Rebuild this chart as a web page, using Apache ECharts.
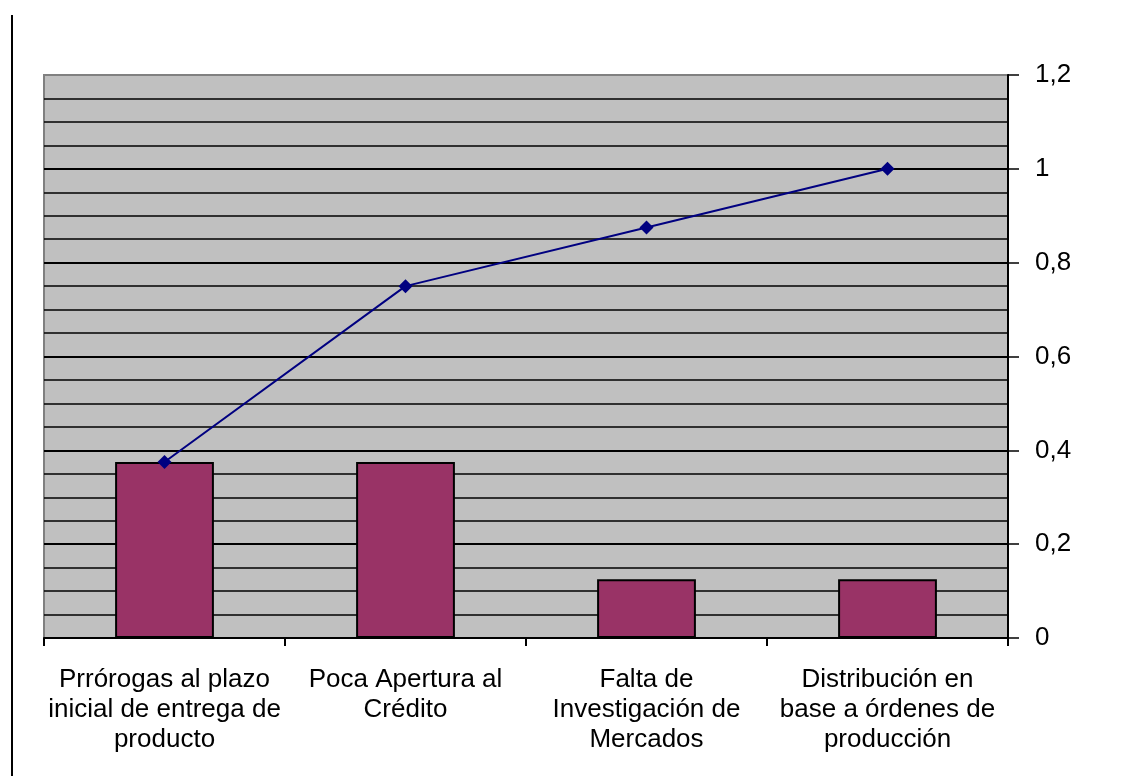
<!DOCTYPE html>
<html>
<head>
<meta charset="utf-8">
<title>Pareto</title>
<script src="https://cdn.jsdelivr.net/npm/echarts@6/dist/echarts.min.js"></script>
<style>
    html, body { margin: 0; padding: 0; background: #fff; }
    #main { width: 1131px; height: 776px; }
</style>
</head>
<body>
<div id="main"></div>
<script type="text/javascript">
    // categorias y valores
    var categorias = [
        'Prrórogas al plazo\ninicial de entrega de\nproducto',
        'Poca Apertura al\nCrédito',
        'Falta de\nInvestigación de\nMercados',
        'Distribución en\nbase a órdenes de\nproducción'
    ];
    var frecuencia = [0.375, 0.375, 0.125, 0.125];
    var acumulado = [0.375, 0.75, 0.875, 1.0];

    var myChart = echarts.init(document.getElementById('main'));

    var option = {
        animation: false,
        textStyle: { fontFamily: 'Liberation Sans, Arial, sans-serif' },
        grid: {
            left: 44, right: 123, top: 75, bottom: 138,
            show: true,
            backgroundColor: '#c0c0c0',
            borderColor: '#808080',
            borderWidth: 2
        },
        graphic: [{
            type: 'line',
            shape: { x1: 12, y1: 15, x2: 12, y2: 776 },
            style: { stroke: '#000', lineWidth: 2 }
        }],
        xAxis: {
            type: 'category',
            data: categorias,
            axisLine: { lineStyle: { color: '#000', width: 2 } },
            axisTick: { show: true, length: 8, lineStyle: { color: '#000', width: 2 } },
            axisLabel: {
                color: '#000',
                fontSize: 26,
                lineHeight: 30,
                margin: 27,
                interval: 0,
                align: 'center'
            }
        },
        yAxis: {
            type: 'value',
            position: 'right',
            min: 0,
            max: 1.2,
            interval: 0.2,
            axisLine: { show: true, lineStyle: { color: '#000', width: 2 } },
            axisTick: { show: true, length: 11, lineStyle: { color: '#000', width: 1.5 } },
            axisLabel: {
                color: '#000',
                fontSize: 26,
                margin: 27,
                formatter: function (v) { return String(Math.round(v * 10) / 10).replace('.', ','); }
            },
            splitLine: { show: true, showMaxLine: false, lineStyle: { color: '#000', width: 2 } },
            minorTick: { show: false, splitNumber: 4 },
            minorSplitLine: { show: true, lineStyle: { color: '#000', width: 1.5 } }
        },
        series: [{
            name: 'Frecuencia',
            type: 'bar',
            data: frecuencia,
            barWidth: '41%',
            itemStyle: { color: '#993366', borderColor: '#000', borderWidth: 2 }
        }, {
            name: 'Acumulado',
            type: 'line',
            data: acumulado,
            symbol: 'diamond',
            symbolSize: 14,
            lineStyle: { color: '#000080', width: 2 },
            itemStyle: { color: '#000080' }
        }]
    };

    myChart.setOption(option);
</script>
</body>
</html>
